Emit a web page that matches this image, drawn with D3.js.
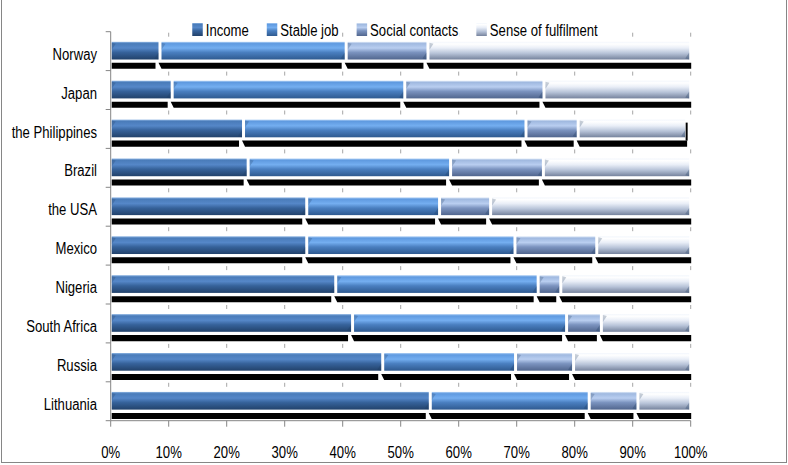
<!DOCTYPE html>
<html>
<head>
<meta charset="utf-8">
<script src="https://cdn.jsdelivr.net/npm/d3@7"></script>
<style>
  body { margin: 0; background: #fff; }
  text { font-family: "Liberation Sans", Arial, sans-serif; font-size: 16px; fill: #000; }
</style>
</head>
<body>
<div id="viz"></div>
<script>
// data (percent of respondents)
const countries = ['Norway', 'Japan', 'the Philippines', 'Brazil', 'the USA', 'Mexico',
  'Nigeria', 'South Africa', 'Russia', 'Lithuania'];
const seriesNames = ['Income', 'Stable job', 'Social contacts', 'Sense of fulfilment'];
const income         = [8.5, 10.6, 22.9, 23.7, 33.8, 33.8, 38.8, 41.7, 46.9, 55.1];
const stableJob      = [32.1, 40.1, 48.7, 34.9, 22.9, 35.9, 34.9, 36.9, 22.9, 27.4];
const socialContacts = [14.1, 24.0, 9.0, 16.0, 8.8, 14.1, 3.9, 6.0, 10.0, 8.4];
const fulfilment     = [45.3, 25.3, 18.7, 25.4, 34.5, 16.2, 22.4, 15.4, 20.2, 9.1];
const xTicks = [0, 10, 20, 30, 40, 50, 60, 70, 80, 90, 100];

// gradient stops per series: [offset, colour]
const gradients = [
  [[0, '#8db4e2'], [0.1, '#4a7cba'], [0.35, '#5587c8'], [0.6, '#36629a'], [1, '#22426b']],
  [[0, '#b0d0f5'], [0.1, '#5f9ae0'], [0.35, '#74aef0'], [0.6, '#4a7fc0'], [1, '#2f5a90']],
  [[0, '#dde8f7'], [0.1, '#a0b9e0'], [0.35, '#b9cef0'], [0.6, '#7b93bf'], [1, '#51668e']],
  [[0, '#f2f6fc'], [0.12, '#ffffff'], [0.35, '#e9eef7'], [0.65, '#b7c3d8'], [1, '#76839d']]
];

const width = 788, height = 465;
const plot = { left: 110.7, right: 690.7, top: 31.7, bottom: 420.7 };
const narrow = 0.82; // horizontal squeeze of the labels

const svg = d3.select('#viz').append('svg')
  .attr('width', width)
  .attr('height', height);

const defs = svg.append('defs');
gradients.forEach((stops, i) => {
  const g = defs.append('linearGradient')
    .attr('id', 'grad' + i)
    .attr('x1', 0).attr('y1', 0).attr('x2', 0).attr('y2', 1);
  stops.forEach(s => g.append('stop').attr('offset', s[0]).attr('stop-color', s[1]));
});

// squeezed text helper
function label(parent, tx, ty, str, anchor) {
  const g = parent.append('g').attr('transform', `translate(${tx},${ty}) scale(${narrow},1)`);
  return g.append('text').attr('text-anchor', anchor || 'start').text(str);
}

// outer frame
svg.append('rect')
  .attr('x', 1.5).attr('y', -1)
  .attr('width', 785).attr('height', 463.5)
  .attr('fill', 'none')
  .attr('stroke', '#868686');

const x = d3.scaleLinear().domain([0, 100]).range([plot.left, plot.right]);
const y = d3.scaleBand().domain(countries).range([plot.top, plot.bottom]).padding(0);
const bw = y.bandwidth();

const rows = countries.map((c, i) => ({
  country: c,
  s0: income[i], s1: stableJob[i], s2: socialContacts[i], s3: fulfilment[i]
}));
const stacked = d3.stack().keys(['s0', 's1', 's2', 's3'])(rows);
const last = stacked.length - 1;

// small dashes at each 10% on top of every category band
const dashes = svg.append('g');
countries.forEach(c => {
  xTicks.slice(1).forEach(t => {
    dashes.append('line')
      .attr('x1', x(t)).attr('x2', x(t))
      .attr('y1', y(c) + 1).attr('y2', y(c) + 5)
      .attr('stroke', '#a6a6a6');
  });
});

const barTop = 0.26 * bw, barH = 0.455 * bw;
const shadowTop = 0.8 * bw, shadowH = 0.155 * bw;
const segX0 = (d, si) => si === 0 ? x(d[0]) + 1 : x(d[0]) + 1.5;
const segX1 = d => x(d[1]) - 1.5;

// shadows
stacked.forEach((layer, si) => {
  const g = svg.append('g');
  g.selectAll('polygon')
    .data(layer)
    .join('polygon')
    .attr('fill', '#000')
    .attr('points', d => {
      const xa = segX0(d, si);
      const xb = si === last ? Math.min(segX1(d) + 2, plot.right + 1) : segX1(d) - 3;
      const t = y(d.data.country) + shadowTop, b = t + shadowH;
      const tl = si === 0 ? xa : xa - 3;
      return [[tl, t], [xb, t], [xb, b], [xa, b]].map(p => p.join(',')).join(' ');
    });
  if (si === last) {
    // right side face where the bar stops short of 100%
    g.selectAll('rect')
      .data(layer.filter(d => d[1] < 99.9))
      .join('rect')
      .attr('x', d => segX1(d) + 0.5)
      .attr('y', d => y(d.data.country) + barTop + 3)
      .attr('width', 2)
      .attr('height', shadowTop - barTop - 3)
      .attr('fill', '#000');
  }
});

// bars
stacked.forEach((layer, si) => {
  const g = svg.append('g');
  const seg = g.selectAll('g').data(layer).join('g');
  seg.append('rect')
    .attr('x', d => segX0(d, si))
    .attr('y', d => y(d.data.country) + barTop)
    .attr('width', d => segX1(d) - segX0(d, si))
    .attr('height', barH)
    .attr('fill', 'url(#grad' + si + ')');
  // small bevels at the segment ends
  seg.append('polygon')
    .attr('fill', '#1f3a60').attr('opacity', 0.25)
    .attr('points', d => {
      const a = segX0(d, si), t = y(d.data.country) + barTop + 1;
      return [[a, t], [a + 4, t + 1], [a, t + 7]].map(p => p.join(',')).join(' ');
    });
  seg.append('polygon')
    .attr('fill', '#1f3a60').attr('opacity', 0.3)
    .attr('points', d => {
      const b = segX1(d), btm = y(d.data.country) + barTop + barH;
      return [[b, btm], [b - 4, btm - 1], [b, btm - 7]].map(p => p.join(',')).join(' ');
    });
});

// axes
const axisColor = '#868686';
svg.append('line')
  .attr('x1', plot.left).attr('x2', plot.left)
  .attr('y1', plot.top).attr('y2', plot.bottom)
  .attr('stroke', axisColor);
svg.append('line')
  .attr('x1', plot.left).attr('x2', plot.right)
  .attr('y1', plot.bottom).attr('y2', plot.bottom)
  .attr('stroke', axisColor);

// category ticks
countries.concat([null]).forEach(c => {
  const yy = c === null ? plot.bottom : y(c);
  svg.append('line')
    .attr('x1', plot.left - 5).attr('x2', plot.left)
    .attr('y1', yy).attr('y2', yy)
    .attr('stroke', axisColor);
});

// value ticks and labels
xTicks.forEach(t => {
  svg.append('line')
    .attr('x1', x(t)).attr('x2', x(t))
    .attr('y1', plot.bottom).attr('y2', plot.bottom + 6)
    .attr('stroke', axisColor);
  label(svg, x(t), 458, t + '%', 'middle');
});

// category labels
countries.forEach(c => {
  label(svg, 97, y(c) + 28, c, 'end');
});

// legend
const legend = svg.append('g');
const items = seriesNames.map((name, i) => {
  const g = legend.append('g');
  const bg = g.append('rect').attr('fill', '#fff');
  g.append('rect')
    .attr('x', 0).attr('y', 23)
    .attr('width', 10.5).attr('height', 13)
    .attr('fill', 'url(#grad' + i + ')');
  const txt = label(g, 13.5, 36, name);
  const w = 13.5 + txt.node().getComputedTextLength() * narrow;
  bg.attr('x', -1).attr('y', 20).attr('width', w + 2).attr('height', 20);
  return { g, w };
});
const gap = 18;
const total = d3.sum(items, d => d.w) + gap * (items.length - 1);
let lx = 395 - total / 2;
items.forEach(it => {
  it.g.attr('transform', `translate(${lx},0)`);
  lx += it.w + gap;
});
</script>
</body>
</html>
